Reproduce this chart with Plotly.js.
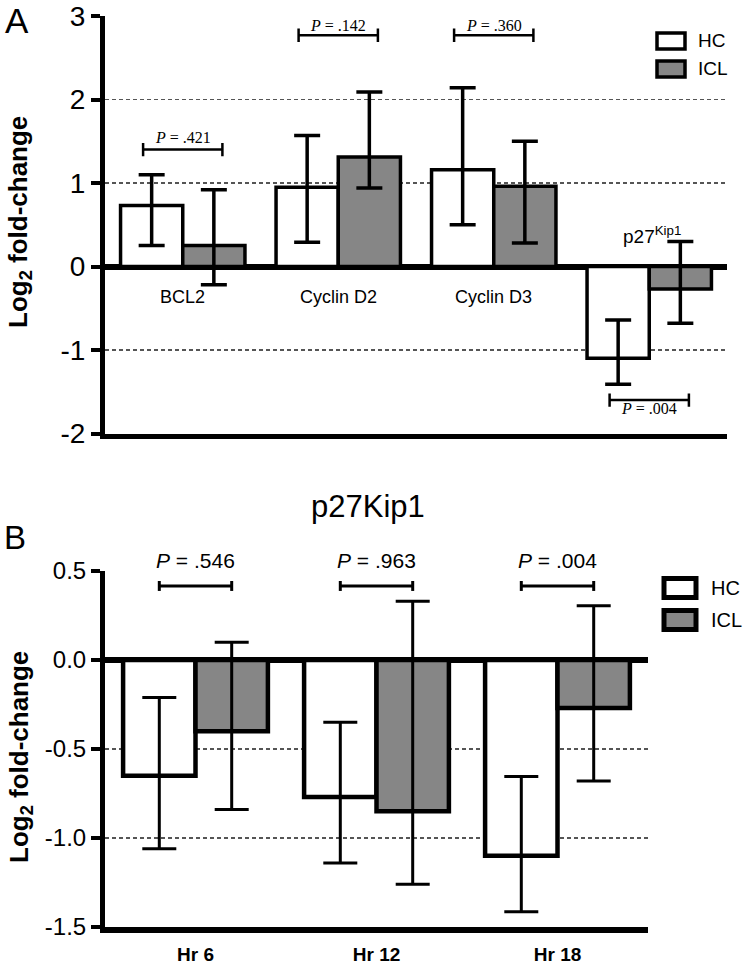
<!DOCTYPE html>
<html>
<head>
<meta charset="utf-8">
<script src="https://cdn.plot.ly/plotly-3.0.1.min.js"></script>
<style>html,body{margin:0;padding:0;background:#fff;}#chart{width:747px;height:970px;}</style>
</head>
<body>
<div id="chart"></div>
<script>
// ---------- Panel A data ----------
const catsA = ['BCL2', 'Cyclin D2', 'Cyclin D3', 'p27Kip1'];
const catLabelsA = ['BCL2', 'Cyclin D2', 'Cyclin D3', 'p27<sup>Kip1</sup>'];
const hcA = [0.73, 0.95, 1.16, -1.10];
const hcAHi = [1.10, 1.57, 2.14, -0.64];
const hcALo = [0.25, 0.29, 0.50, -1.41];
const iclA = [0.25, 1.31, 0.96, -0.27];
const iclAHi = [0.92, 2.09, 1.50, 0.30];
const iclALo = [-0.22, 0.94, 0.28, -0.68];
const pA = ['.421', '.142', '.360', '.004'];
const yTicksA = [-2, -1, 0, 1, 2, 3];

// ---------- Panel B data ----------
const catsB = ['Hr 6', 'Hr 12', 'Hr 18'];
const hcB = [-0.65, -0.77, -1.10];
const hcBHi = [-0.21, -0.35, -0.655];
const hcBLo = [-1.06, -1.14, -1.415];
const iclB = [-0.40, -0.85, -0.27];
const iclBHi = [0.10, 0.33, 0.305];
const iclBLo = [-0.84, -1.26, -0.68];
const pB = ['.546', '.963', '.004'];
const yTicksB = [-1.5, -1.0, -0.5, 0.0, 0.5];

const seriesNames = ['HC', 'ICL'];

// ---------- styles ----------
const SANS = '"Liberation Sans", Arial, sans-serif';
const SERIF = '"Liberation Serif", "DejaVu Serif", serif';
const GRAY = '#868686';
const FILLS = ['#ffffff', GRAY];

function plus(v, hi) { return hi.map((h, i) => +(h - v[i]).toFixed(3)); }
function minus(v, lo) { return lo.map((l, i) => +(v[i] - l).toFixed(3)); }

function barTrace(name, cats, vals, hi, lo, color, xa, ya, lw, capw, eth) {
  return {
    type: 'bar', name: name, x: cats, y: vals, xaxis: xa, yaxis: ya, showlegend: false,
    marker: {color: color, line: {color: '#000', width: lw}},
    error_y: {type: 'data', symmetric: false, array: plus(vals, hi), arrayminus: minus(vals, lo),
              color: '#000', thickness: eth, width: capw},
    hoverinfo: 'x+y'
  };
}

const traces = [
  barTrace(seriesNames[0], catsA, hcA, hcAHi, hcALo, FILLS[0], 'x', 'y', 3.5, 13, 3.5),
  barTrace(seriesNames[1], catsA, iclA, iclAHi, iclALo, FILLS[1], 'x', 'y', 3.5, 13, 3.5),
  barTrace(seriesNames[0], catsB, hcB, hcBHi, hcBLo, FILLS[0], 'x2', 'y2', 4.5, 17, 3),
  barTrace(seriesNames[1], catsB, iclB, iclBHi, iclBLo, FILLS[1], 'x2', 'y2', 4.5, 17, 3)
];

// ---------- brackets ----------
function bracket(xref, yref, xc, half, yv, cap, w) {
  const line = {color: '#000', width: w};
  return [
    {type: 'line', xref: xref, yref: yref, x0: xc - half, x1: xc + half, y0: yv, y1: yv, line: line},
    {type: 'line', xref: xref, yref: yref, x0: xc - half, x1: xc - half, y0: yv - cap, y1: yv + cap, line: line},
    {type: 'line', xref: xref, yref: yref, x0: xc + half, x1: xc + half, y0: yv - cap, y1: yv + cap, line: line}
  ];
}

const bracketYA = [1.40, 2.77, 2.77, -1.60];
const pTextYA = [1.54, 2.89, 2.89, -1.70];
let shapes = [];
const annotations = [];

pA.forEach((p, i) => {
  shapes = shapes.concat(bracket('x', 'y', i, 0.255, bracketYA[i], 0.08, 2.5));
  annotations.push({xref: 'x', yref: 'y', x: i, y: pTextYA[i], xanchor: 'center', yanchor: 'middle',
    text: '<i>P</i> = ' + p, showarrow: false, font: {family: SERIF, size: 16, color: '#000'}});
});
catLabelsA.forEach((c, i) => {
  if (i < 3) {
    annotations.push({xref: 'x', yref: 'y', x: i, y: -0.36, xanchor: 'center', yanchor: 'middle',
      text: c, showarrow: false, font: {family: SANS, size: 18, color: '#000'}});
  } else {
    annotations.push({xref: 'x', yref: 'y', x: i + 0.02, y: 0.38, xanchor: 'center', yanchor: 'middle',
      text: c, showarrow: false, font: {family: SANS, size: 19, color: '#000'}});
  }
});

pB.forEach((p, i) => {
  shapes = shapes.concat(bracket('x2', 'y2', i, 0.2, 0.416, 0.028, 3));
  annotations.push({xref: 'x2', yref: 'y2', x: i, y: 0.5, xanchor: 'center', yanchor: 'bottom', yshift: -3,
    text: '<i>P</i> = ' + p, showarrow: false, font: {family: SANS, size: 21, color: '#000'}});
});

// ---------- legends (drawn boxes + text) ----------
function legendItems(x0, x1, ys, h, lw, textX, size) {
  seriesNames.forEach((n, i) => {
    shapes.push({type: 'rect', xref: 'paper', yref: 'paper', x0: x0 / 747, x1: x1 / 747,
      y0: 1 - (ys[i] + h / 2) / 970, y1: 1 - (ys[i] - h / 2) / 970,
      fillcolor: FILLS[i], line: {color: '#000', width: lw}});
    annotations.push({xref: 'paper', yref: 'paper', x: textX / 747, y: 1 - ys[i] / 970,
      xanchor: 'left', yanchor: 'middle', text: n, showarrow: false,
      font: {family: SANS, size: size, color: '#000'}});
  });
}
legendItems(657, 685, [41, 69], 16, 3.5, 696, 19);
legendItems(664, 696, [588, 620], 19, 5, 709, 20);

// panel letters, titles
annotations.push({xref: 'paper', yref: 'paper', x: 17 / 747, y: 1 - 20 / 970, xanchor: 'center', yanchor: 'middle',
  text: 'A', showarrow: false, font: {family: SANS, size: 35, color: '#000'}});
annotations.push({xref: 'paper', yref: 'paper', x: 15 / 747, y: 1 - 537 / 970, xanchor: 'center', yanchor: 'middle',
  text: 'B', showarrow: false, font: {family: SANS, size: 33, color: '#000'}});
annotations.push({xref: 'paper', yref: 'paper', x: 368 / 747, y: 1 - 506 / 970, xanchor: 'center', yanchor: 'middle',
  text: 'p27Kip1', showarrow: false, font: {family: SANS, size: 31, color: '#000'}});
annotations.push({xref: 'paper', yref: 'paper', x: 20 / 747, y: 1 - 222 / 970, xanchor: 'center', yanchor: 'middle',
  text: 'Log<sub>2</sub> fold-change', textangle: -90, showarrow: false,
  font: {family: SANS, size: 26, color: '#000', weight: 'bold'}});
annotations.push({xref: 'paper', yref: 'paper', x: 20 / 747, y: 1 - 757 / 970, xanchor: 'center', yanchor: 'middle',
  text: 'Log<sub>2</sub> fold-change', textangle: -90, showarrow: false,
  font: {family: SANS, size: 26, color: '#000', weight: 'bold'}});

const yAxisCommon = {
  showline: true, linecolor: '#000', linewidth: 5, ticks: 'outside', ticklen: 9, tickwidth: 4, tickcolor: '#000',
  showgrid: true, gridcolor: '#555', gridwidth: 1.3, griddash: '4px,3px',
  zeroline: true, zerolinecolor: '#000', zerolinewidth: 6, fixedrange: true
};

const layout = {
  width: 747, height: 970,
  margin: {l: 0, r: 0, t: 0, b: 0},
  paper_bgcolor: '#fff', plot_bgcolor: 'rgba(0,0,0,0)',
  barmode: 'group', bargap: 0.2, bargroupgap: 0,
  showlegend: false,
  xaxis: {domain: [105 / 747, 727 / 747], anchor: 'y', type: 'category', range: [-0.5, 3.5],
    showline: true, linecolor: '#000', linewidth: 5, showticklabels: false, ticks: '', showgrid: false,
    zeroline: false, fixedrange: true},
  yaxis: Object.assign({}, yAxisCommon, {domain: [1 - 433.5 / 970, 1 - 16 / 970], anchor: 'x',
    range: [-2, 3], tickvals: yTicksA, ticktext: yTicksA.map(String),
    tickfont: {family: SANS, size: 28, color: '#000'}}),
  xaxis2: {domain: [105 / 747, 648 / 747], anchor: 'y2', type: 'category', range: [-0.5, 2.5],
    showline: true, linecolor: '#000', linewidth: 6, ticks: '', showgrid: false, zeroline: false,
    tickfont: {family: SANS, size: 19, color: '#000', weight: 'bold'}, ticklabelstandoff: 5, fixedrange: true},
  yaxis2: Object.assign({}, yAxisCommon, {domain: [1 - 927 / 970, 1 - 571 / 970], anchor: 'x2',
    range: [-1.5, 0.5], tickvals: yTicksB, ticktext: yTicksB.map(v => v.toFixed(1)),
    tickfont: {family: SANS, size: 24, color: '#000'}}),
  shapes: shapes,
  annotations: annotations
};

Plotly.newPlot('chart', traces, layout, {displayModeBar: false, staticPlot: true});
</script>
</body>
</html>
